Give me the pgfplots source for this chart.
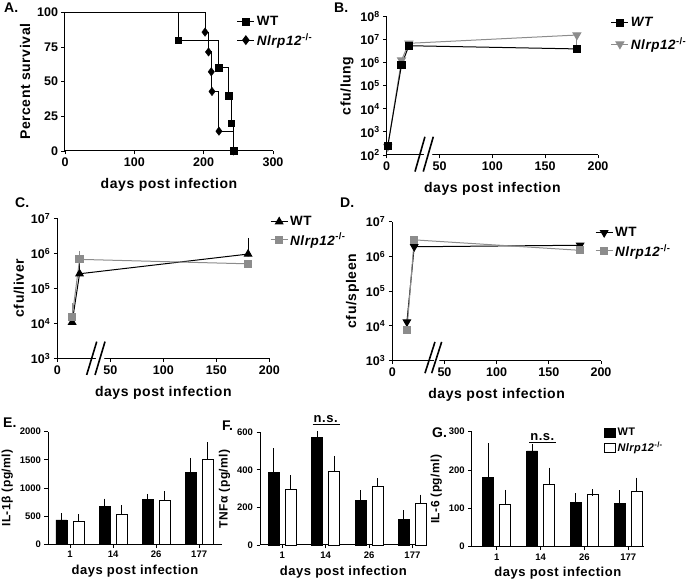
\documentclass[border=0pt]{standalone}
\usepackage{fontspec}
\setmainfont{Liberation Sans}
\newfontfamily\gpf[LetterSpace=4]{Liberation Sans}
\usepackage{pgfplots}
\pgfplotsset{compat=1.18}
\definecolor{gpgray}{RGB}{140,140,140}
\tikzset{brk/.style={line width=1.6pt, black}}
\pgfplotsset{
  gp/.style={
    scale only axis, clip=false,
    axis lines=left, axis line style={-, line width=1pt},
    tick align=outside, major tick length=3.5pt,
    tick style={black, line width=0.9pt},
    tick label style={font=\bfseries\fontsize{12.5}{14}\selectfont},
    label style={font=\gpf\bfseries\fontsize{14}{16}\selectfont},
    xlabel style={yshift=-5pt},
    /pgf/number format/assume math mode=true,
    /pgf/number format/set thousands separator={},
    legend style={draw=none, fill=none, inner sep=0pt, font=\gpf\bfseries\fontsize{13.5}{15}\selectfont, row sep=2pt},
    legend cell align=left,
  },
  gpbar/.style={gp,
    tick label style={font=\bfseries\fontsize{9.5}{11}\selectfont},
    xlabel style={font=\gpf\bfseries\fontsize{13}{15}\selectfont, yshift=5pt},
    ylabel style={font=\gpf\bfseries\fontsize{12}{14}\selectfont},
    xtick={0,1,2,3}, xticklabels={1,14,26,177},
    ybar=6pt, bar width=11pt, ymin=0,
    xlabel={days post infection},
    error bars/y dir=plus, error bars/y explicit,
    error bars/error bar style={line width=0.9pt, black},
    error bars/error mark options={line width=0.9pt, mark size=3.5pt, black},
  },
}
\begin{document}
\begin{tikzpicture}
\path[use as bounding box] (0,0) rectangle (689pt,583pt);
% panel labels
\begin{scope}[every node/.style={font=\bfseries\fontsize{14}{16}\selectfont, anchor=north west, inner sep=0pt}]
\node at (4pt,580pt) {A.};
\node at (334pt,580pt) {B.};
\node at (15pt,385pt) {C.};
\node at (340pt,385pt) {D.};
\node at (3pt,165pt) {E.};
\node at (222pt,162pt) {F.};
\node at (432pt,155pt) {G.};
\end{scope}

% ---------------- A ----------------
\begin{axis}[gp, at={(65pt,432pt)}, anchor=south west, width=208pt, height=138.7pt,
  xmin=0, xmax=300, ymin=0, ymax=100, xtick={0,100,200,300}, ytick={0,25,50,75,100},
  xlabel={days post infection}, ylabel={Percent survival},
  legend style={at={(0.825,0.985)}, anchor=north west}]
\addlegendimage{black, line width=1pt, mark=square*, mark size=3.3pt}
\addlegendentry{WT}
\addlegendimage{black, line width=1pt, mark=diamond*, mark size=4.2pt}
\addlegendentry{\textit{Nlrp12}\textsuperscript{-/-}}
\addplot[black, line width=1pt, forget plot] coordinates {(0,100) (163,100) (163,80) (222,80) (222,60) (236,60) (236,40) (240,40) (240,20) (243,20) (243,0)};
\addplot[black, line width=1pt, forget plot] coordinates {(0,100) (202,100) (202,85.7) (207,85.7) (207,71.4) (211,71.4) (211,42.9) (222,42.9) (222,14.3) (243,14.3) (243,0)};
\addplot[black, only marks, mark=square*, mark size=3.3pt, forget plot] coordinates {(163,80) (222,60) (236,40) (240,20) (243,0)};
\addplot[black, only marks, mark=diamond*, mark size=4.2pt, forget plot] coordinates {(202,85.7) (207,71.4) (211,57.1) (212,42.9) (222,14.3) (243,0)};
\end{axis}

% ---------------- B ----------------
\begin{axis}[gp, at={(386.7pt,428pt)}, anchor=south west, width=211.3pt, height=138.3pt,
  xmin=0, xmax=200, xtick={0,50,100,150,200},
  ymode=log, ymin=1e2, ymax=1e8, ytick={1e2,1e3,1e4,1e5,1e6,1e7,1e8}, yminorticks=false,
  yticklabels={10\textsuperscript{2},10\textsuperscript{3},10\textsuperscript{4},10\textsuperscript{5},10\textsuperscript{6},10\textsuperscript{7},10\textsuperscript{8}},
  xlabel={days post infection}, ylabel={cfu/lung},
  legend style={at={(1.06,1.01)}, anchor=north west, row sep=5pt}]
\addlegendimage{black, line width=1pt, mark=square*, mark size=3.6pt}
\addlegendentry{\textit{WT}}
\addlegendimage{gpgray, line width=1pt, mark=triangle*, mark options={rotate=180}, mark size=4.5pt}
\addlegendentry{\textit{Nlrp12}\textsuperscript{-/-}}
\fill[white] (rel axis cs:0.181,-0.02) -- (rel axis cs:0.173,0.02) -- (rel axis cs:0.212,0.02) -- (rel axis cs:0.220,-0.02) -- cycle;
\draw[brk] (rel axis cs:0.134,-0.12) -- (rel axis cs:0.181,0.132);
\draw[brk] (rel axis cs:0.173,-0.12) -- (rel axis cs:0.2205,0.132);
\addplot[gpgray, only marks, mark=none, forget plot, error bars/.cd, y dir=minus, y explicit,
  error bar style={line width=0.9pt}, error mark options={line width=0.9pt, mark size=5pt}]
  coordinates {(180,1.6e7) -= (0,7.5e6)};
\addplot[gpgray, line width=1pt, mark=triangle*, mark options={rotate=180}, mark size=4.5pt, forget plot]
  coordinates {(1,230) (14,1.3e6) (21,7e6) (180,1.6e7)};
\addplot[black, line width=1pt, mark=square*, mark size=3.6pt, forget plot]
  coordinates {(1,245) (14,8e5) (21,5.5e6) (180,4e6)};
\end{axis}

% ---------------- C ----------------
\begin{axis}[gp, at={(57.3pt,224.7pt)}, anchor=south west, width=212pt, height=140pt,
  xmin=0, xmax=200, xtick={0,50,100,150,200},
  ymode=log, ymin=1e3, ymax=1e7, ytick={1e3,1e4,1e5,1e6,1e7}, yminorticks=false,
  yticklabels={10\textsuperscript{3},10\textsuperscript{4},10\textsuperscript{5},10\textsuperscript{6},10\textsuperscript{7}},
  xlabel={days post infection}, ylabel={cfu/liver},
  legend style={at={(1.003,1.03)}, anchor=north west}]
\addlegendimage{black, line width=1pt, mark=triangle*, mark size=4.2pt}
\addlegendentry{WT}
\addlegendimage{gpgray, line width=1pt, mark=square*, mark size=3.6pt}
\addlegendentry{\textit{Nlrp12}\textsuperscript{-/-}}
\fill[white] (rel axis cs:0.186,-0.02) -- (rel axis cs:0.178,0.02) -- (rel axis cs:0.217,0.02) -- (rel axis cs:0.225,-0.02) -- cycle;
\draw[brk] (rel axis cs:0.1385,-0.119) -- (rel axis cs:0.186,0.119);
\draw[brk] (rel axis cs:0.178,-0.119) -- (rel axis cs:0.225,0.119);
\addplot[black, only marks, mark=none, forget plot, error bars/.cd, y dir=plus, y explicit,
  error bar style={line width=0.9pt}, error mark options={line width=0.9pt, mark size=5pt}]
  coordinates {(14,1.07e4) += (0,0.9e4) (21,2.6e5) += (0,2.4e5) (180,9.5e5) += (0,1.05e6)};
\addplot[gpgray, only marks, mark=none, forget plot, error bars/.cd, y dir=plus, y explicit,
  error bar style={line width=0.9pt}, error mark options={line width=0.9pt, mark size=5pt}]
  coordinates {(14,1.5e4) += (0,1.2e4) (21,6.7e5) += (0,1.8e5)};
\addplot[black, line width=1pt, mark=triangle*, mark size=4.2pt, forget plot]
  coordinates {(14,1.07e4) (21,2.6e5) (180,9.5e5)};
\addplot[gpgray, line width=1pt, mark=square*, mark size=3.6pt, forget plot]
  coordinates {(14,1.5e4) (21,6.7e5) (180,5e5)};
\end{axis}

% ---------------- D ----------------
\begin{axis}[gp, at={(392.3pt,222.3pt)}, anchor=south west, width=208.7pt, height=139pt,
  xmin=0, xmax=200, xtick={0,50,100,150,200},
  ymode=log, ymin=1e3, ymax=1e7, ytick={1e3,1e4,1e5,1e6,1e7}, yminorticks=false,
  yticklabels={10\textsuperscript{3},10\textsuperscript{4},10\textsuperscript{5},10\textsuperscript{6},10\textsuperscript{7}},
  xlabel={days post infection}, ylabel={cfu/spleen},
  legend style={at={(0.971,0.975)}, anchor=north west}]
\addlegendimage{black, line width=1pt, mark=triangle*, mark options={rotate=180}, mark size=4.2pt}
\addlegendentry{WT}
\addlegendimage{gpgray, line width=1pt, mark=square*, mark size=3.6pt}
\addlegendentry{\textit{Nlrp12}\textsuperscript{-/-}}
\fill[white] (rel axis cs:0.2045,-0.02) -- (rel axis cs:0.1965,0.02) -- (rel axis cs:0.2215,0.02) -- (rel axis cs:0.2295,-0.02) -- cycle;
\draw[brk] (rel axis cs:0.1565,-0.09) -- (rel axis cs:0.2045,0.135);
\draw[brk] (rel axis cs:0.1885,-0.09) -- (rel axis cs:0.2365,0.135);
\addplot[black, line width=1pt, mark=triangle*, mark options={rotate=180}, mark size=4.2pt, forget plot]
  coordinates {(14,1.3e4) (21,1.9e6) (180,2.1e6)};
\addplot[gpgray, line width=1pt, mark=square*, mark size=3.6pt, forget plot]
  coordinates {(14,7.6e3) (21,3e6) (180,1.5e6)};
\end{axis}

% ---------------- E ----------------
\begin{axis}[gpbar, at={(48pt,38.7pt)}, anchor=south west, width=174pt, height=112.6pt,
  xmin=-0.51, xmax=3.53, ymax=2000, ytick={0,500,1000,1500,2000},
  ylabel={IL-1β (pg/ml)}]
\addplot[fill=black, draw=black] coordinates {(0,432) += (0,59) (1,680) += (0,71) (2,799) += (0,35) (3,1278) += (0,195)};
\addplot[fill=white, draw=black] coordinates {(0,402) += (0,71) (1,538) += (0,89) (2,787) += (0,95) (3,1515) += (0,231)};
\end{axis}

% ---------------- F ----------------
\begin{axis}[gpbar, at={(260pt,38pt)}, anchor=south west, width=166.7pt, height=112.7pt,
  xmin=-0.515, xmax=3.33, ymax=600, ytick={0,200,400,600},
  ylabel={TNFα (pg/ml)}]
\addplot[fill=black, draw=black] coordinates {(0,387) += (0,110) (1,572) += (0,17) (2,238) += (0,35) (3,138) += (0,29)};
\addplot[fill=white, draw=black] coordinates {(0,298) += (0,55) (1,391) += (0,65) (2,311) += (0,26) (3,225) += (0,25)};
\draw[line width=1pt] (axis cs:0.70,643) -- (axis cs:1.33,643);
\node[anchor=south, inner sep=1.5pt, font=\gpf\bfseries\fontsize{13}{15}\selectfont] at (axis cs:1.0,643) {n.s.};
\end{axis}

% ---------------- G ----------------
\begin{axis}[gpbar, at={(471.7pt,36.3pt)}, anchor=south west, width=172.3pt, height=115pt,
  xmin=-0.57, xmax=3.36, ymax=300, ytick={0,100,200,300},
  ylabel={IL-6 (pg/ml)},
  legend image code/.code={\draw[#1, line width=0.8pt] (0pt,-4.5pt) rectangle (11pt,4.5pt);},
  legend style={at={(0.765,1.05)}, anchor=north west, row sep=1pt, font=\gpf\bfseries\fontsize{11}{12}\selectfont}]
\addplot[fill=black, draw=black] coordinates {(0,181) += (0,80) (1,250) += (0,9) (2,116) += (0,14) (3,113) += (0,25)};
\addlegendentry{WT}
\addplot[fill=white, draw=black] coordinates {(0,111) += (0,28) (1,164) += (0,33) (2,138) += (0,3) (3,145) += (0,26)};
\addlegendentry{\textit{Nlrp12}\textsuperscript{-/-}}
\draw[line width=1pt] (axis cs:0.74,271) -- (axis cs:1.35,271);
\node[anchor=south, inner sep=1.5pt, font=\gpf\bfseries\fontsize{13}{15}\selectfont] at (axis cs:1.04,271) {n.s.};
\end{axis}
\end{tikzpicture}
\end{document}
